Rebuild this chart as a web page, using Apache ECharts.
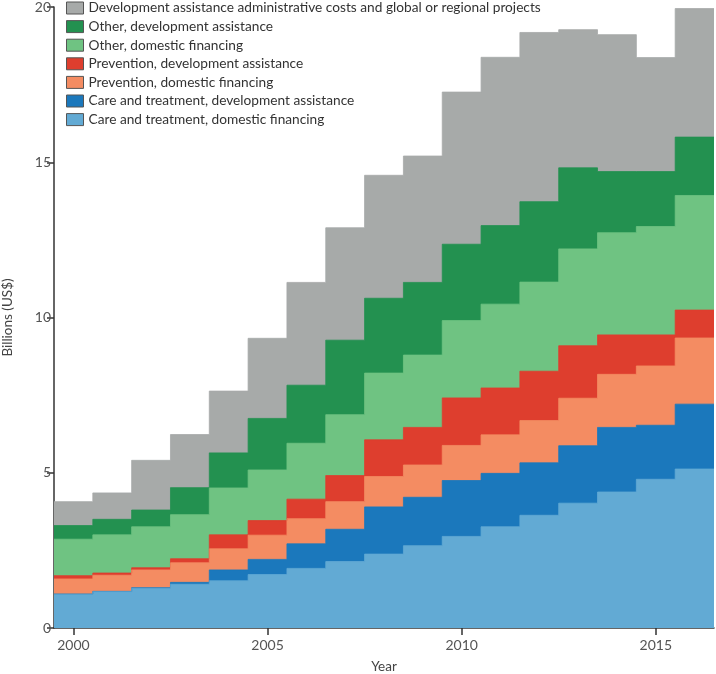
<!DOCTYPE html>
<html>
<head>
<meta charset="utf-8">
<script src="https://cdn.jsdelivr.net/npm/echarts@6/dist/echarts.min.js"></script>
<style>html,body{margin:0;padding:0;background:#fff}#c{width:716px;height:674px}</style>
</head>
<body>
<div id="c"></div>
<script>
const years = [2000,2001,2002,2003,2004,2005,2006,2007,2008,2009,2010,2011,2012,2013,2014,2015,2016];
const xTicks = [2000,2005,2010,2015];
const careDomestic = [1.085,1.17,1.28,1.41,1.52,1.72,1.92,2.14,2.38,2.65,2.95,3.26,3.63,4.02,4.38,4.79,5.12];
const careDA = [0.01,0.01,0.02,0.06,0.35,0.49,0.79,1.04,1.52,1.56,1.80,1.72,1.69,1.85,2.08,1.74,2.09];
const prevDomestic = [0.485,0.52,0.57,0.63,0.68,0.78,0.81,0.89,0.98,1.04,1.13,1.24,1.36,1.53,1.71,1.91,2.13];
const prevDA = [0.105,0.07,0.07,0.13,0.45,0.47,0.63,0.84,1.18,1.21,1.53,1.51,1.59,1.69,1.27,1.00,0.90];
const otherDomestic = [1.175,1.23,1.32,1.42,1.51,1.63,1.80,1.96,2.15,2.33,2.49,2.70,2.87,3.12,3.29,3.49,3.69];
const otherDA = [0.44,0.50,0.54,0.87,1.13,1.66,1.87,2.40,2.41,2.34,2.46,2.53,2.59,2.61,1.97,1.77,1.88];
const adminGlobal = [0.77,0.85,1.60,1.71,1.99,2.58,3.31,3.62,3.96,4.07,4.90,5.42,5.45,4.45,4.41,3.67,4.14];

// bottom-to-top stacking order
const seriesDefs = [
  {name:'Care and treatment, domestic financing', data:careDomestic, color:'#62aad4'},
  {name:'Care and treatment, development assistance', data:careDA, color:'#1b78bc'},
  {name:'Prevention, domestic financing', data:prevDomestic, color:'#f48c62'},
  {name:'Prevention, development assistance', data:prevDA, color:'#de3e2e'},
  {name:'Other, domestic financing', data:otherDomestic, color:'#6fc382'},
  {name:'Other, development assistance', data:otherDA, color:'#239150'},
  {name:'Development assistance administrative costs and global or regional projects', data:adminGlobal, color:'#a7aaa9'}
];

// cumulative stack totals (the stacked top of each layer)
const running = years.map(()=>0);
const stackedTops = seriesDefs.map(s => s.data.map((v,i) => (running[i] += v)));

// step edges: each year spans year-0.5 .. year+0.5
function stepData(vals){
  const out = years.map((y,i)=>[y-0.5, vals[i]]);
  out.push([years[years.length-1]+0.5, vals[vals.length-1]]);
  return out;
}

const font = 'Lato, "Open Sans", sans-serif';
const chart = echarts.init(document.getElementById('c'), null, {renderer:'canvas'});
const series = seriesDefs.map((s,k)=>({
  name:s.name, type:'line', step:'end',
  data:stepData(stackedTops[k]),
  showSymbol:false, symbol:'none',
  color:s.color,
  itemStyle:{color:s.color},
  lineStyle:{width:0.8, color:s.color, opacity:1},
  areaStyle:{color:s.color, opacity:1, origin:'start'}
})).reverse(); // draw top layer first so lower layers paint over it

chart.setOption({
  animation:false,
  grid:{left:54, right:2, top:7, bottom:46, containLabel:false, outerBoundsMode:'none'},
  legend:{
    orient:'vertical', left:66, top:1, padding:0,
    itemWidth:17, itemHeight:12, itemGap:4.6,
    icon:'rect',
    itemStyle:{borderColor:'#555', borderWidth:1},
    textStyle:{fontFamily:font, fontSize:13.7, color:'#333', lineHeight:12},
    data: seriesDefs.map(s=>s.name).reverse(),
    selectedMode:false
  },
  xAxis:{
    type:'value', min:years[0]-0.5, max:years[years.length-1]+0.5,
    name:'Year', nameLocation:'middle', nameGap:32,
    nameTextStyle:{fontFamily:font, fontSize:13.5, color:'#444'},
    axisLine:{show:true, lineStyle:{color:'#333', width:1.5}},
    axisTick:{show:true, length:7, customValues:xTicks, lineStyle:{color:'#333', width:1.5}},
    axisLabel:{customValues:xTicks, fontFamily:font, fontSize:14, color:'#555', margin:10, formatter:v=>String(v)},
    splitLine:{show:false}
  },
  yAxis:{
    type:'value', min:0, max:20, interval:5,
    name:'Billions (US$)', nameLocation:'middle', nameGap:39,
    nameTextStyle:{fontFamily:font, fontSize:13.5, color:'#444'},
    axisLine:{show:true, lineStyle:{color:'#333', width:1.5}},
    axisTick:{show:true, length:7, lineStyle:{color:'#333', width:1.5}},
    axisLabel:{fontFamily:font, fontSize:14, color:'#555', margin:3},
    splitLine:{show:false}
  },
  series: series
});
</script>
</body>
</html>
